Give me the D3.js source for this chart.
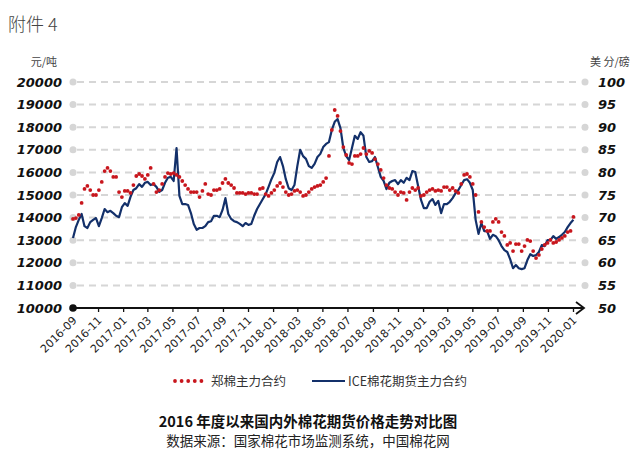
<!DOCTYPE html>
<html><head><meta charset="utf-8">
<script src="https://cdn.jsdelivr.net/npm/d3@7/dist/d3.min.js"></script>
<style>
body{margin:0;background:#fff;}
svg{display:block;}
</style></head>
<body>
<svg id="c" width="640" height="458"></svg>
<script>
// ---- data ----
const startDate = "2016-09-01";   // weekly observations
const stepDays = 7;
const zceValues = [ // 郑棉主力合约, 元/吨
13940,13980,14120,14650,15270,15400,15220,15000,15000,15220,
15580,16060,16200,16060,15800,15800,15130,14910,15180,15180,
15090,15440,15840,15930,15840,15710,15890,16200,15490,15130,
15220,15490,15800,15970,15930,15970,15890,15800,15620,15440,
15270,15130,15130,15130,14910,15180,15490,15040,15000,15220,
15220,15270,15530,15710,15530,15440,15310,15090,15090,15090,
15040,15090,15090,15040,15040,15270,15310,15040,14960,15090,
15220,15400,15530,15350,15130,15000,15040,15180,15220,15130,
14960,15000,15130,15270,15350,15400,15440,15580,15750,16730,
17880,18760,18500,17830,17120,16770,16420,16370,16730,16730,
16810,17080,16810,16950,16860,16590,16370,16110,15750,15440,
15310,15270,15130,15000,15130,15090,14780,15130,15310,15220,
15310,14960,15000,15130,15220,15270,15180,15220,15180,15350,
15350,15220,15310,15180,15090,15490,15890,15930,15800,15490,
15000,14250,13810,13580,13410,13410,13810,13940,13810,13360,
13190,12790,12880,12520,12830,12830,12520,12740,13010,12960,
12520,12210,12350,12610,12790,12880,13010,12880,12920,13010,
13100,13190,13360,13410,14030];
const iceValues = [ // ICE棉花期货主力合约, 美分/磅
65.5,67.9,69.5,70.8,68.1,67.7,69.0,69.5,69.9,68.1,
69.9,71.9,71.2,71.5,71.0,70.4,70.1,72.3,73.2,72.6,
74.6,76.1,76.5,77.4,76.8,77.7,77.9,77.2,77.4,76.8,
75.7,76.1,77.7,78.8,79.0,78.1,85.4,74.8,73.0,73.0,
72.8,71.0,68.6,67.3,67.7,67.7,68.1,69.0,69.2,70.4,
70.4,70.1,71.7,74.3,70.8,69.7,69.2,69.0,68.6,68.1,
68.8,68.4,68.6,70.4,71.9,73.0,74.1,75.2,76.8,78.5,
79.9,82.3,83.4,81.4,78.5,76.5,76.1,77.2,81.4,85.0,
83.6,83.0,81.4,81.0,81.9,83.4,84.1,85.6,86.3,86.7,
89.4,91.2,91.8,89.8,85.4,83.6,82.7,85.4,88.1,87.4,
88.9,88.1,83.4,82.3,82.5,83.4,81.2,79.0,78.1,76.3,
77.7,78.1,78.3,77.4,78.3,77.7,78.8,78.3,80.3,80.1,
77.0,73.9,72.1,72.1,73.5,74.1,72.8,73.7,71.0,73.0,
73.0,73.5,74.3,75.4,76.1,77.2,78.3,78.5,77.7,76.1,
69.5,66.4,68.8,67.0,67.0,65.3,66.2,65.9,65.0,63.7,
62.8,62.4,60.8,58.8,59.5,58.8,58.6,58.8,60.6,61.9,
61.5,61.7,62.4,63.9,63.7,65.0,65.0,65.9,65.3,65.7,
66.2,66.8,67.9,68.8,69.5];
const leftTicks = [10000,11000,12000,13000,14000,15000,16000,17000,18000,19000,20000];
const rightTicks = [50,55,60,65,70,75,80,85,90,95,100];
const seriesNames = ["郑棉主力合约","ICE棉花期货主力合约"];
const xTickFirst = "2016-09-01", xTickLast = "2020-01-01";

// ---- build ----
const parse = d3.timeParse("%Y-%m-%d");
const t0 = parse(startDate);
const dates = zceValues.map((_, i) => d3.timeDay.offset(t0, i * stepDays));
const zce = dates.map((d, i) => ({date: d, v: zceValues[i]}));
const ice = dates.map((d, i) => ({date: d, v: iceValues[i]}));

const svg = d3.select("#c");
const X0 = 73, X1 = 573, GX1 = 585, Y0 = 308, Y1 = 82;
const x = d3.scaleTime().domain([parse(xTickFirst), parse(xTickLast)]).range([X0, X1]);
const yL = d3.scaleLinear().domain([10000, 20000]).range([Y0, Y1]);
const yR = d3.scaleLinear().domain([50, 100]).range([Y0, Y1]);

const red = "#c8161d", blue = "#13306a", grid = "#d6d6d6";

// header text
svg.append("text").attr("x", 8).attr("y", 31).text("附件 4")
  .attr("font-family", "Noto Sans CJK SC").attr("font-size", 18).attr("font-weight", 300).attr("fill", "#444");
svg.append("text").attr("x", 57).attr("y", 66).attr("text-anchor", "end").text("元/吨")
  .attr("font-family", "Noto Sans CJK SC").attr("font-size", 11).attr("fill", "#444");
svg.append("text").attr("x", 590).attr("y", 66).text("美 分/磅")
  .attr("font-family", "Noto Sans CJK SC").attr("font-size", 11).attr("fill", "#444");

// gridlines
const gl = svg.append("g");
leftTicks.filter(t => t > 10000).forEach(t => {
  const yy = yL(t);
  gl.append("line").attr("x1", X0 + 4).attr("x2", GX1 - 4).attr("y1", yy).attr("y2", yy)
    .attr("stroke", grid).attr("stroke-width", 2).attr("stroke-dasharray", "7,5");
  gl.append("circle").attr("cx", X0).attr("cy", yy).attr("r", 3.5).attr("fill", grid);
  gl.append("circle").attr("cx", GX1).attr("cy", yy).attr("r", 3.5).attr("fill", grid);
});

// left axis labels
const yAxisL = d3.axisLeft(yL).tickValues(leftTicks).tickSize(0).tickPadding(0).tickFormat(d3.format("d"));
const gL = svg.append("g").attr("transform", `translate(62,0)`).call(yAxisL);
gL.select(".domain").remove();
gL.selectAll("text").attr("font-family", "DejaVu Sans").attr("font-size", 13)
  .attr("font-weight", "bold").attr("font-style", "italic").attr("fill", "#111");

// right axis labels
const yAxisR = d3.axisRight(yR).tickValues(rightTicks).tickSize(0).tickPadding(0).tickFormat(d3.format("d"));
const gR = svg.append("g").attr("transform", `translate(598,0)`).call(yAxisR);
gR.select(".domain").remove();
gR.selectAll("text").attr("font-family", "DejaVu Sans").attr("font-size", 13)
  .attr("font-weight", "bold").attr("font-style", "italic").attr("fill", "#111");

// x axis
const xAxis = d3.axisBottom(x).ticks(d3.timeMonth.every(2)).tickSize(4).tickSizeOuter(0)
  .tickFormat(d3.timeFormat("%Y-%m"));
const gX = svg.append("g").attr("transform", `translate(0,${Y0})`).call(xAxis);
gX.select(".domain").remove();
gX.selectAll(".tick line").attr("stroke", "#111").attr("stroke-width", 1.3);
gX.selectAll(".tick").filter(d => +d === +parse(xTickFirst)).select("line").remove();
gX.selectAll("text").attr("font-family", "DejaVu Sans").attr("font-size", 11).attr("fill", "#222")
  .attr("text-anchor", "end").attr("dy", null).attr("y", 0)
  .attr("transform", "translate(4,13) rotate(-45)");
svg.append("line").attr("x1", X0).attr("x2", 583).attr("y1", Y0).attr("y2", Y0)
  .attr("stroke", "#111").attr("stroke-width", 2);
svg.append("circle").attr("cx", X0).attr("cy", Y0).attr("r", 3.8).attr("fill", "#111");
svg.append("path").attr("d", `M${576},${Y0-6} L${584},${Y0} L${576},${Y0+6}`)
  .attr("fill", "none").attr("stroke", "#111").attr("stroke-width", 1.8);

// ICE line
const line = d3.line().x(d => x(d.date)).y(d => yR(d.v));
svg.append("path").datum(ice).attr("d", line).attr("fill", "none")
  .attr("stroke", blue).attr("stroke-width", 2.2).attr("stroke-linejoin", "round");

// ZCE dots
svg.append("g").selectAll("circle").data(zce).join("circle")
  .attr("cx", d => x(d.date)).attr("cy", d => yL(d.v)).attr("r", 1.9).attr("fill", red);

// legend
const lg = svg.append("g");
d3.range(5).forEach(k => lg.append("circle").attr("cx", 175 + k * 6.6).attr("cy", 381).attr("r", 1.9).attr("fill", red));
lg.append("text").attr("x", 211).attr("y", 385.5).text(seriesNames[0])
  .attr("font-family", "Noto Sans CJK SC").attr("font-size", 12.5).attr("fill", "#333");
lg.append("line").attr("x1", 312).attr("x2", 345).attr("y1", 381).attr("y2", 381).attr("stroke", blue).attr("stroke-width", 2.2);
lg.append("text").attr("x", 348).attr("y", 385.5).text(seriesNames[1])
  .attr("font-family", "Noto Sans CJK SC").attr("font-size", 12.5).attr("fill", "#333");

// titles
svg.append("text").attr("x", 308).attr("y", 427).attr("text-anchor", "middle")
  .text("2016 年度以来国内外棉花期货价格走势对比图")
  .attr("font-family", "Noto Sans CJK SC").attr("font-size", 14.5).attr("font-weight", "bold").attr("fill", "#111");
svg.append("text").attr("x", 308).attr("y", 446).attr("text-anchor", "middle")
  .text("数据来源：国家棉花市场监测系统，中国棉花网")
  .attr("font-family", "Noto Sans CJK SC").attr("font-size", 13.5).attr("fill", "#222");
</script>
</body></html>
